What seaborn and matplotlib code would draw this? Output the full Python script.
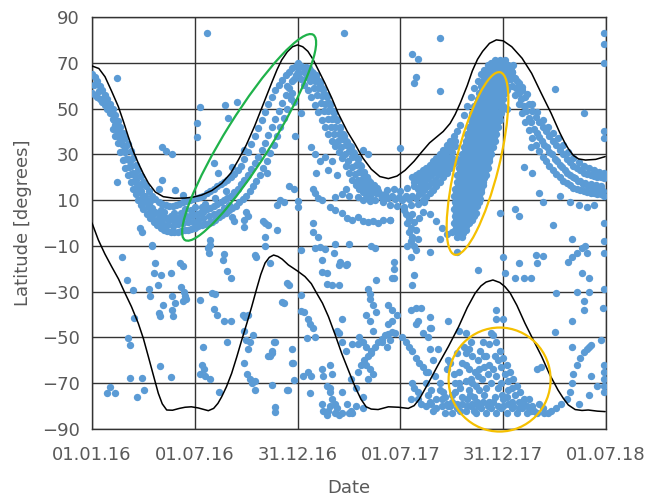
import matplotlib
matplotlib.use('Agg')
import matplotlib.pyplot as plt
import matplotlib.transforms as mtransforms
from matplotlib.patches import Ellipse
import seaborn as sns
import pandas as pd

# x = months since 01.01.16
tick_months = [0, 6, 12, 18, 24, 30]
tick_labels = ['01.01.16', '01.07.16', '31.12.16', '01.07.17', '31.12.17', '01.07.18']
lat_ticks = [-90, -70, -50, -30, -10, 10, 30, 50, 70, 90]

# black curves (month, latitude)
north_curve = [(0, 68.6), (0.4, 67.5), (0.76, 63.9), (1.15, 57.5), (1.54, 50.8), (1.85, 44), (2.12, 37.7),
               (2.4, 31.5), (2.7, 26.2), (3.0, 21.5), (3.29, 17.5), (3.7, 13.5), (4.16, 11.5), (4.8, 10.8),
               (5.43, 10.9), (5.9, 11.3), (6.4, 12.2), (7.0, 14.2), (7.57, 17.3), (8.1, 21.8), (8.54, 27.5),
               (9.0, 34), (9.5, 42.5), (10.0, 52), (10.5, 61.5), (10.8, 67), (11.07, 71.2), (11.4, 74.8),
               (11.7, 77), (12.0, 77.8), (12.3, 77), (12.6, 75), (12.9, 71.5), (13.2, 67), (13.6, 61),
               (14.0, 54.5), (14.37, 47.9), (14.9, 40), (15.35, 34.5), (15.8, 28.5), (16.3, 23.5), (16.8, 20.3),
               (17.3, 19.4), (17.8, 20.5), (18.27, 23), (18.8, 27), (19.24, 31), (19.7, 35), (20.1, 37.5),
               (20.5, 40), (20.9, 43.5), (21.2, 47.5), (21.5, 52.5), (21.9, 60), (22.2, 66.5), (22.5, 71.5),
               (22.8, 75), (23.2, 78.5), (23.6, 80), (24.0, 79.6), (24.5, 77), (25.1, 72), (25.66, 65.4),
               (26.2, 57), (26.8, 47.9), (27.3, 39.5), (27.6, 35), (27.8, 32.5), (28.1, 29.5), (28.4, 28),
               (28.8, 27.5), (29.4, 27.8), (29.95, 29)]
south_curve = [(0, 0), (0.37, -7.4), (0.75, -13.5), (1.15, -19.1), (1.55, -24.5), (1.93, -30.7), (2.3, -36.5),
               (2.7, -43.8), (3.0, -50.5), (3.29, -58.4), (3.6, -67), (3.87, -74.4), (4.1, -79), (4.36, -81.7),
               (4.7, -81.8), (5.1, -81), (5.43, -80.5), (5.8, -80.3), (6.2, -80.8), (6.79, -82), (7.1, -81),
               (7.35, -78.8), (7.57, -75.9), (7.85, -71.5), (8.15, -65.7), (8.45, -58.5), (8.74, -51.1),
               (9.05, -43.5), (9.32, -36.6), (9.6, -29), (9.85, -22.5), (10.1, -17.5), (10.35, -15), (10.6, -14),
               (10.85, -14.6), (11.1, -15.8), (11.46, -18.3), (12.0, -21), (12.43, -23.4), (12.8, -26.5),
               (13.1, -30.5), (13.45, -35), (13.8, -40.9), (14.2, -49), (14.57, -56.9), (15.0, -65),
               (15.35, -71.5), (15.7, -77), (16.0, -80.3), (16.3, -81.3), (16.7, -81.5), (17.3, -80.3),
               (17.9, -80.5), (18.46, -81), (18.8, -79.8), (19.1, -77), (19.4, -73), (19.7, -69), (20.2, -62),
               (20.8, -54), (21.4, -45.3), (21.9, -37), (22.36, -30.7), (22.7, -27.5), (23.0, -25.8),
               (23.4, -24.9), (23.8, -26), (24.1, -27.8), (24.4, -30.5), (24.8, -36), (25.27, -43.8),
               (25.75, -51), (26.25, -58.4), (26.7, -66), (27.2, -73), (27.5, -76.5), (27.8, -79.5),
               (28.2, -81.5), (28.6, -81.9), (28.96, -81.7), (29.5, -82.2), (29.95, -82.4)]

# northern track, 2016 (stripes)
north_2016_a = [(0.0, 65), (0.15, 64), (0.3, 62), (0.45, 60), (0.6, 58), (0.75, 56), (0.9, 54), (1.05, 52),
                (1.2, 50), (1.35, 47), (1.5, 44.5), (1.65, 42), (1.8, 39.5), (1.95, 37), (2.1, 34.5), (2.25, 31.5),
                (2.4, 28.5), (2.55, 25.5), (2.7, 23), (2.85, 20.5), (3.0, 18), (3.15, 16), (3.3, 14), (3.5, 12),
                (3.7, 10.5), (3.9, 9), (4.1, 8.5), (4.3, 8), (4.5, 7.5), (4.7, 7.5), (4.9, 8), (5.1, 8.5), (5.3, 9),
                (5.5, 9.5), (5.7, 10), (5.9, 10.5), (6.1, 11), (6.3, 11.5), (6.5, 12), (6.7, 13), (6.9, 14),
                (7.1, 15), (7.3, 16), (7.5, 17), (7.7, 18), (7.9, 19), (8.1, 20), (8.3, 21.5), (8.5, 23),
                (8.7, 25), (8.9, 28), (9.1, 31), (9.3, 34.5), (9.5, 38), (9.7, 41.5), (9.9, 45), (10.1, 48.5),
                (10.3, 52), (10.5, 55), (10.7, 58), (10.9, 60.5), (11.1, 62.5), (11.3, 64.5), (11.5, 66),
                (11.7, 67.5), (11.9, 68.5), (12.1, 69)]
north_2016_b = [(0.0, 57), (0.15, 56), (0.3, 55), (0.45, 54), (0.6, 53), (0.75, 51.5), (0.9, 50), (1.05, 48),
                (1.2, 45.5), (1.35, 43), (1.5, 40), (1.65, 37), (1.8, 34), (1.95, 31), (2.1, 28), (2.25, 25),
                (2.4, 22), (2.55, 19), (2.7, 16.5), (2.85, 14), (3.0, 12), (3.15, 10), (3.3, 8.5), (3.5, 6.5),
                (3.7, 5), (3.9, 3.5), (4.1, 2.5), (4.3, 2), (4.5, 1.5), (4.7, 1.5), (4.9, 2), (5.1, 2), (5.3, 2.5),
                (5.5, 3), (5.7, 3), (5.9, 3.5), (6.1, 4), (6.3, 4.5), (6.5, 5), (6.7, 6), (6.9, 6.5), (7.1, 7.5),
                (7.3, 8.5), (7.5, 9), (7.7, 10), (7.9, 11), (8.1, 12), (8.3, 13.5), (8.5, 15), (8.7, 17), (8.9, 19),
                (9.1, 21), (9.3, 23.5), (9.5, 26), (9.7, 29), (9.9, 32), (10.1, 35), (10.3, 38.5), (10.5, 42),
                (10.7, 45.5), (10.9, 49), (11.1, 52.5), (11.3, 56), (11.5, 59), (11.7, 62), (11.9, 64.5), (12.0, 66)]
north_2016_c = [(1.2, 41), (1.35, 38), (1.5, 35), (1.65, 31), (1.8, 27.5), (1.95, 24), (2.1, 21), (2.25, 18),
                (2.4, 15), (2.55, 12.5), (2.7, 10), (2.85, 8), (3.0, 6), (3.2, 4), (3.4, 2), (3.6, 0.5), (3.8, -1),
                (4.0, -2), (4.2, -3), (4.4, -3.5), (4.6, -4), (4.8, -4), (5.0, -4), (5.2, -3.5), (5.4, -3),
                (5.6, -3), (5.8, -2.5), (6.0, -2), (6.2, -1.5), (6.4, -1), (6.6, -0.5), (6.8, 0), (7.0, 0.5),
                (7.2, 1.5), (7.4, 2.5), (7.6, 3.5), (7.8, 4.5), (8.0, 5.5), (8.2, 6.5), (8.4, 7.5), (8.6, 9),
                (8.8, 10.5), (9.0, 12), (9.2, 14), (9.4, 16), (9.6, 18.5), (9.8, 21), (10.0, 24), (10.2, 27),
                (10.4, 30.5), (10.6, 34), (10.8, 38), (11.0, 42), (11.2, 46), (11.4, 50), (11.6, 54)]
north_2016_fill = [(3.5, 3), (3.8, 1.5), (4.1, 0), (4.4, -1), (4.7, -1.5), (5.0, -0.5), (5.3, 0), (5.6, 0.5),
                   (5.9, 0.5), (6.2, 1.5), (6.5, 2), (6.8, 3), (7.1, 4), (7.4, 5), (7.7, 6.5), (8.0, 8),
                   (0.5, 58), (1.0, 51), (1.3, 45), (1.6, 39), (1.9, 33), (2.2, 27), (2.5, 21), (2.8, 16),
                   (3.1, 12), (3.4, 9.5), (4.2, 5), (4.8, 4.5), (5.4, 6), (6.0, 7), (6.6, 8.5), (7.2, 11),
                   (7.8, 14), (11.4, 60), (11.8, 63), (12.0, 70), (0.1, 60.5), (0.4, 57.5), (0.7, 54.5),
                   (0.95, 51.5), (1.15, 48.5), (1.4, 41.5), (1.55, 38.5), (1.7, 35), (1.85, 31.5), (2.0, 28),
                   (2.15, 24.5), (2.3, 21.5), (2.45, 18.5), (2.6, 16), (2.75, 13.5), (2.9, 11), (3.05, 9),
                   (3.25, 7), (3.45, 5), (4.0, 5.5), (4.6, 3), (5.2, 4.5), (5.8, 5.5), (6.4, 7)]

# descent after the first peak
north_desc_mid = [(12.2, 68.5), (12.4, 67.5), (12.6, 66), (12.8, 64.5), (13.0, 62), (13.2, 59), (13.4, 55.5),
                  (13.6, 52), (13.8, 49), (14.0, 45.5), (14.2, 42), (14.4, 39), (14.6, 36.5), (14.8, 34),
                  (15.0, 31.5), (15.2, 29), (15.4, 25.5), (15.6, 22.5), (15.8, 19.5), (16.0, 17), (16.2, 15.5),
                  (16.4, 14), (16.6, 13), (16.8, 12.5), (17.0, 12)]
north_desc_right = [(12.5, 68), (12.7, 67), (12.9, 65.5), (13.1, 63.5), (13.3, 61), (13.5, 58), (13.7, 55),
                    (13.9, 51.5), (14.1, 48), (14.3, 45), (14.5, 41.5), (14.7, 38), (14.9, 35.5), (15.1, 33),
                    (15.3, 30.5), (15.5, 28), (15.7, 25), (15.9, 21.5), (16.1, 19), (16.3, 17), (16.5, 15.5),
                    (16.7, 14)]
north_desc_left = [(12.0, 65), (12.2, 63), (12.4, 60.5), (12.6, 58), (12.8, 55), (13.0, 51.5), (13.2, 48.5),
                   (13.4, 45), (13.6, 42), (13.8, 39), (14.0, 36), (14.2, 33.5), (14.4, 31), (14.6, 28.5),
                   (14.8, 25), (15.0, 22), (15.2, 19), (15.4, 16.5), (15.6, 15), (15.8, 13.5), (16.0, 12.5),
                   (16.2, 12)]
north_desc_fill = [(12.35, 66), (12.55, 64), (12.75, 62), (12.95, 59), (13.15, 56), (13.35, 52.5), (13.55, 49),
                   (13.75, 45.5), (13.95, 42), (14.15, 39), (14.35, 36), (14.55, 33), (14.75, 30), (14.95, 27),
                   (15.15, 24.5), (15.35, 21.5), (15.55, 19), (15.75, 17), (15.95, 15), (16.15, 14),
                   (12.65, 67.5), (12.85, 66), (13.05, 64.5), (13.25, 62), (13.45, 59), (13.65, 56),
                   (13.85, 52.5), (14.05, 49), (14.25, 45.5), (14.45, 42), (14.65, 39), (14.85, 36),
                   (15.05, 33.5), (15.25, 31), (15.45, 28.5), (15.65, 25.5), (15.85, 22.5), (16.05, 20),
                   (16.25, 18), (16.45, 16.5), (16.65, 15.5)]

# mid 2017 gathering point near the equator
north_knot = [(16.9, 11), (17.1, 12.5), (17.3, 11), (17.5, 12), (17.7, 10.5), (17.9, 11.5), (18.1, 10),
              (18.3, 12), (18.5, 10.5), (18.7, 12), (18.9, 11), (19.1, 12.5), (17.2, 14.5), (17.6, 15),
              (18.0, 14), (18.4, 15.5), (18.8, 16), (19.2, 16.5), (17.4, 8), (17.8, 7.5), (18.2, 7), (18.6, 8),
              (19.0, 8.5), (18.3, 4), (18.5, 2), (18.7, 4), (18.4, 0), (18.6, -2), (18.8, 0.5), (18.5, -4),
              (18.7, -6), (18.9, -3), (18.6, -8), (18.8, -10), (19.0, -7), (18.9, -12), (19.1, 2), (19.3, 5),
              (17.0, 9), (16.5, 10), (16.0, 11), (15.5, 11.5), (15.0, 12), (14.6, 12.5), (14.2, 11.5),
              (16.2, 9.5), (15.8, 10), (14.6, 4.5), (14.9, 2), (15.2, 1.5), (15.5, 2.5), (15.8, 1), (16.1, 0.5),
              (16.4, 1), (16.7, 0), (17.0, 1.5), (17.4, 1.5), (13.9, 7), (18.2, 5.5), (19.4, 9)]

# rise towards the second peak
north_rise_upper = [(18.7, 20), (18.9, 21), (19.1, 22), (19.3, 23), (19.5, 24), (19.7, 25.5), (19.9, 27),
                    (20.1, 28.5), (20.3, 30), (20.5, 32), (20.7, 34), (20.9, 36), (21.1, 38), (21.3, 40),
                    (21.5, 43), (21.7, 47), (21.9, 51), (22.1, 55), (22.3, 59), (22.5, 62), (22.7, 65),
                    (22.9, 67), (23.1, 69), (23.3, 70), (23.5, 71)]
north_rise_mid = [(19.0, 15), (19.2, 16.5), (19.4, 18), (19.6, 19.5), (19.8, 21), (20.0, 22.5), (20.2, 24),
                  (20.4, 25.5), (20.6, 27), (20.8, 29), (21.0, 31), (21.2, 33.5)]
north_rise_lower = [(19.3, 10), (19.5, 11.5), (19.7, 13), (19.9, 14.5), (20.1, 16), (20.3, 18), (20.5, 20),
                    (20.7, 22), (20.9, 24), (21.1, 26), (21.3, 28)]
north_rise_fill = [(18.8, 18), (19.0, 19), (19.2, 20), (19.4, 21), (19.6, 22.5), (19.8, 24), (20.0, 25.5),
                   (20.2, 27), (20.4, 28.5), (20.6, 30), (20.8, 32), (21.0, 34), (21.2, 36), (19.2, 13),
                   (19.4, 14.5), (19.6, 16), (19.8, 17.5), (20.0, 19), (20.2, 21), (20.4, 22.5), (20.6, 24),
                   (20.8, 26), (21.0, 28.5)]

# dense cloud (yellow ellipse): latitude row -> months
blob_rows = [(-6, [21.3, 21.6]), (-4.5, [21.35, 21.65]), (-3, [21.2, 21.5, 21.8]), (-1.5, [21.25, 21.55, 21.85]),
             (0, [21.1, 21.4, 21.7, 22.0]), (1.5, [21.25, 21.55, 21.85, 22.15]),
             (3, [21.2, 21.5, 21.8, 22.1, 22.3]), (4.5, [21.25, 21.55, 21.85, 22.15, 22.4]),
             (6, [21.1, 21.4, 21.7, 22.0, 22.3]), (7.5, [21.25, 21.55, 21.85, 22.15, 22.45]),
             (9, [21.2, 21.5, 21.8, 22.1, 22.4, 22.6]), (10.5, [21.25, 21.55, 21.85, 22.15, 22.45, 22.65]),
             (12, [21.1, 21.4, 21.7, 22.0, 22.3, 22.6]), (13.5, [21.25, 21.55, 21.85, 22.15, 22.45, 22.7]),
             (15, [21.2, 21.5, 21.8, 22.1, 22.4, 22.7]), (16.5, [21.35, 21.65, 21.95, 22.25, 22.55, 22.8]),
             (18, [21.3, 21.6, 21.9, 22.2, 22.5, 22.8]), (19.5, [21.45, 21.75, 22.05, 22.35, 22.65, 22.9]),
             (21, [21.3, 21.6, 21.9, 22.2, 22.5, 22.8, 23.0]), (22.5, [21.45, 21.75, 22.05, 22.35, 22.65, 22.95]),
             (24, [21.4, 21.7, 22.0, 22.3, 22.6, 22.9, 23.1]), (25.5, [21.55, 21.85, 22.15, 22.45, 22.75, 23.05]),
             (27, [21.5, 21.8, 22.1, 22.4, 22.7, 23.0, 23.2]), (28.5, [21.65, 21.95, 22.25, 22.55, 22.85, 23.15]),
             (30, [21.6, 21.9, 22.2, 22.5, 22.8, 23.1, 23.3]), (31.5, [21.75, 22.05, 22.35, 22.65, 22.95, 23.25]),
             (33, [21.7, 22.0, 22.3, 22.6, 22.9, 23.2, 23.4]), (34.5, [21.85, 22.15, 22.45, 22.75, 23.05, 23.35]),
             (36, [21.8, 22.1, 22.4, 22.7, 23.0, 23.3, 23.5]), (37.5, [21.95, 22.25, 22.55, 22.85, 23.15, 23.45]),
             (39, [21.9, 22.2, 22.5, 22.8, 23.1, 23.4, 23.6]), (40.5, [22.05, 22.35, 22.65, 22.95, 23.25, 23.55]),
             (42, [22.0, 22.3, 22.6, 22.9, 23.2, 23.5, 23.7]), (43.5, [22.15, 22.45, 22.75, 23.05, 23.35, 23.65]),
             (45, [22.1, 22.4, 22.7, 23.0, 23.3, 23.6, 23.8]), (46.5, [22.25, 22.55, 22.85, 23.15, 23.45, 23.75]),
             (48, [22.2, 22.5, 22.8, 23.1, 23.4, 23.7, 23.9]), (49.5, [22.35, 22.65, 22.95, 23.25, 23.55, 23.85]),
             (51, [22.3, 22.6, 22.9, 23.2, 23.5, 23.8, 24.0]), (52.5, [22.45, 22.75, 23.05, 23.35, 23.65, 23.9]),
             (54, [22.5, 22.8, 23.1, 23.4, 23.7, 24.0]), (55.5, [22.65, 22.95, 23.25, 23.55, 23.85]),
             (57, [22.6, 22.9, 23.2, 23.5, 23.8, 24.1]), (58.5, [22.75, 23.05, 23.35, 23.65, 23.95]),
             (60, [22.7, 23.0, 23.3, 23.6, 23.9, 24.2]), (61.5, [22.85, 23.15, 23.45, 23.75, 24.05]),
             (63, [22.9, 23.2, 23.5, 23.8, 24.1, 24.3]), (64.5, [23.05, 23.35, 23.65, 23.95, 24.25]),
             (66, [23.1, 23.4, 23.7, 24.0, 24.3, 24.5]), (67.5, [23.25, 23.55, 23.85, 24.15, 24.45]),
             (69, [23.4, 23.7, 24.0, 24.3, 24.6]), (71, [23.8, 24.1])]

# descent after the second peak
north_2018_a = [(24.3, 68), (24.5, 66), (24.7, 63.5), (24.9, 61), (25.1, 58), (25.3, 55), (25.5, 52), (25.7, 49),
                (25.9, 46.5), (26.1, 44), (26.3, 42), (26.5, 40), (26.7, 38), (26.9, 36), (27.1, 34), (27.3, 32),
                (27.5, 30), (27.7, 28), (27.9, 26.5), (28.1, 25), (28.3, 24), (28.5, 23), (28.7, 22),
                (28.9, 21.5), (29.1, 21), (29.3, 20.5), (29.5, 20), (29.7, 20), (29.9, 19.5)]
north_2018_b = [(24.5, 60), (24.7, 56), (24.9, 52), (25.1, 48), (25.3, 44), (25.5, 40.5), (25.7, 37), (25.9, 34),
                (26.1, 31.5), (26.3, 29), (26.5, 27), (26.7, 25), (26.9, 23), (27.1, 21.5), (27.3, 20),
                (27.5, 18.5), (27.7, 17.5), (27.9, 16.5), (28.1, 15.5), (28.3, 15), (28.5, 14.5), (28.7, 14),
                (28.9, 13.5), (29.1, 13), (29.3, 13), (29.5, 12.5), (29.7, 12.5), (29.9, 12)]
north_2018_c = [(24.6, 64), (24.9, 57), (25.2, 51), (25.5, 46), (25.8, 41), (26.1, 37.5), (26.4, 34), (26.7, 31),
                (27.0, 28), (27.3, 25.5), (27.6, 23), (27.9, 21), (28.2, 19.5), (28.5, 18.5), (28.8, 17.5),
                (29.1, 17), (29.4, 16.5), (29.7, 16)]
north_2018_d = [(24.45, 63), (24.75, 59), (25.05, 54), (25.35, 49), (25.65, 44), (25.95, 39.5), (26.25, 36),
                (26.55, 33), (26.85, 30), (27.15, 27), (27.45, 24.5), (27.75, 22), (28.05, 20), (28.35, 18.5),
                (28.65, 17), (28.95, 16), (29.25, 15), (29.55, 14.5), (29.85, 14), (24.8, 62), (25.1, 59.5),
                (25.4, 56.5), (25.7, 52), (26.0, 48.5), (26.3, 45), (26.6, 42), (26.9, 39.5), (27.2, 37),
                (27.5, 34), (27.8, 31), (28.1, 28.5), (28.4, 26.5), (28.7, 25), (29.0, 24), (29.3, 23),
                (29.6, 22.5), (29.9, 22)]

# isolated points in the northern half
north_scatter = [(6.7, 83), (14.7, 83), (20.3, 81), (18.7, 74), (19.0, 71.5), (18.9, 64), (18.8, 61),
                 (20.3, 57.7), (27.0, 58.5), (28.7, 48), (29.9, 83), (29.9, 78), (29.9, 70), (29.9, 40),
                 (29.9, 37), (24.2, 58), (24.2, 50), (25.6, 33), (25.2, 24.5), (25.7, 22), (26.1, 13), (26.9, -1),
                 (24.7, 6), (24.9, 3), (23.8, 4.5), (27.9, 9), (28.4, 8), (28.9, 7), (29.3, 8), (28.0, -7),
                 (29.9, 0), (29.9, -8), (29.9, -13), (1.45, 63.4), (1.45, 18), (4.07, 33), (4.3, 31.5),
                 (4.67, 30), (4.07, 18.8), (3.9, 15), (4.85, 14.4), (5.3, 12.2), (6.1, 43.7), (6.1, 37.6),
                 (6.3, 50.8), (7.76, 51.6), (8.45, 53), (7.95, 46), (7.35, 22), (7.1, 26), (8.15, 24.6),
                 (8.9, 32), (10.2, 22), (9.0, 5), (9.1, 3), (10.0, 1), (10.3, -1), (10.8, -3), (11.0, 10),
                 (11.2, 9), (11.5, 16), (11.8, 15), (12.0, 7), (12.9, 0), (12.9, -4), (12.8, 33), (13.1, 22),
                 (11.8, 53), (11.85, 38), (11.7, 57), (12.2, 48), (13.0, 30), (13.3, 27), (13.6, 29), (14.0, 27),
                 (13.8, 23), (14.3, 21), (14.8, 15), (12.9, 15), (13.0, 13), (13.2, 11), (13.4, 10), (14.2, 5.6),
                 (10.1, 0), (10.8, 8), (12.0, 9.6), (10.1, -6), (13.2, -6), (17.4, 1.5), (2.8, -2), (2.9, -4),
                 (3.5, -10), (6.9, -7.4), (6.9, -9.6), (8.2, 2.6), (8.3, 1), (8.9, 1.3), (8.9, -1.7),
                 (15.8, 32), (16.1, 30), (18.0, 32.8), (19.7, 4), (20.1, 1), (20.4, -2), (20.3, -7), (20.7, -5),
                 (21.0, -4), (26.3, 9), (27.3, 12)]

# southern half
south_2016 = [(1.73, -14.7), (2.02, -24.9), (2.37, -29.3), (2.45, -41.5), (2.12, -50.2), (2.2, -53.5),
              (2.2, -67.7), (0.86, -74.4), (1.06, -71.5), (1.35, -74.4), (2.64, -76), (2.9, -67.7), (3.05, -72.9),
              (3.3, -29), (3.4, -32), (3.48, -9.6), (3.68, -17.5), (3.6, -21.9), (3.87, -27), (3.93, -39.3),
              (3.97, -40.8), (4.16, -35.8), (4.05, -22.7), (3.97, -62.4), (4.59, -21.9), (4.61, -67.3),
              (4.65, -32), (4.65, -38), (4.7, -40.7), (4.84, -35), (5.14, -17.6), (5.33, -19), (5.2, -28),
              (5.35, -30), (5.45, -32), (5.3, -34), (5.5, -33), (6.3, -33.6), (6.5, -54), (6.4, -62),
              (6.55, -64), (6.3, -66), (6.6, -67), (6.9, -68), (6.8, -13), (6.75, -11), (7.0, -30.5),
              (7.2, -31), (7.1, -37.5), (7.3, -40), (7.4, -74), (7.68, -13.5), (7.65, -16), (7.9, -21),
              (8.1, -24), (7.7, -43), (8.1, -43), (7.9, -51.8), (8.8, -40), (8.95, -41), (9.1, -40), (8.9, -47),
              (9.0, -51), (9.1, -55), (9.25, -52), (9.4, -49), (8.9, -61), (9.05, -66), (9.2, -68), (9.35, -70),
              (9.5, -69), (9.5, -73), (9.6, -14.7), (10.1, -10), (10.4, -17.5), (10.5, -57), (10.4, -58),
              (10.6, -51.8), (10.5, -70.8), (10.7, -80.4), (10.7, -82.6), (11.1, -34.4), (11.5, -27),
              (11.4, -26), (11.46, -73), (11.75, -61), (11.8, -68.7), (12.2, -11.8), (12.2, -31.5),
              (12.2, -38.6), (12.3, -67), (12.7, -74.4), (12.53, -50.3)]
south_2017 = [(9.5, -14), (13.0, -11), (13.3, -10.5), (13.6, -11.5), (14.2, -9), (15.0, -9), (16.3, -10),
              (16.5, -11), (17.6, -17), (18.4, -10), (18.6, -15), (13.4, -16), (14.4, -18.5), (14.8, -18.5),
              (13.4, -21.5), (13.7, -22), (13.7, -26.5), (14.0, -27), (14.4, -27), (16.6, -25), (17.5, -24),
              (18.7, -27), (18.8, -22.5), (16.1, -29), (16.2, -31), (11.2, -35), (17.3, -36), (17.5, -38),
              (18.9, -37), (19.2, -37), (12.4, -39), (12.6, -42), (12.75, -44), (12.9, -46), (16.0, -40),
              (16.2, -43), (16.4, -47), (17.3, -44), (17.5, -43), (14.6, -42), (18.9, -44), (19.3, -48),
              (19.7, -46), (13.0, -50), (14.4, -48), (14.6, -52), (14.8, -56), (15.2, -53), (15.5, -53),
              (10.3, -58), (10.5, -56), (10.7, -52), (11.7, -55), (11.7, -61), (12.6, -65), (12.8, -67),
              (13.4, -64), (13.5, -67), (13.7, -71), (13.9, -74), (14.0, -77), (14.2, -79), (14.6, -74),
              (14.9, -79), (15.1, -82), (15.2, -83), (15.4, -80), (13.4, -79), (13.5, -82), (13.7, -84),
              (13.8, -82), (14.2, -83), (14.4, -84), (14.6, -83), (11.4, -73),
              (15.5, -65), (15.7, -62), (15.9, -60), (16.1, -58), (16.3, -56), (16.5, -54), (16.7, -52),
              (16.9, -50.5), (17.1, -49), (17.3, -48.5), (17.5, -47.5), (17.7, -48), (16.0, -62), (16.2, -64),
              (16.4, -66), (16.1, -68), (18.1, -50), (18.3, -52), (18.5, -54), (18.7, -56), (18.9, -59),
              (19.1, -61), (19.3, -63), (19.5, -65), (18.7, -70), (18.8, -72), (19.0, -74), (19.0, -77),
              (19.2, -79), (19.5, -80), (18.6, -77), (14.1, -13), (14.5, -17), (14.9, -18), (16.2, -33),
              (16.4, -36), (16.6, -39), (17.6, -20), (17.6, -24), (17.8, -40), (18.6, -38), (19.0, -43),
              (14.3, -47), (15.6, -50), (15.8, -52), (16.0, -54), (16.3, -57), (16.9, -52), (17.2, -54),
              (17.4, -51), (13.9, -62), (14.0, -66), (13.9, -72), (15.1, -68), (15.4, -72), (15.8, -76),
              (13.9, -80), (14.3, -81), (15.0, -83), (15.8, -81)]
south_2018 = [(19.6, -50), (19.7, -55), (19.9, -60), (19.6, -65), (20.0, -67), (20.3, -70), (19.5, -70),
              (19.8, -73), (20.5, -74), (20.1, -77), (19.7, -78), (20.4, -80), (20.9, -80), (21.3, -79),
              (19.9, -82), (20.6, -83), (21.0, -83), (21.5, -82), (20.8, -43), (21.4, -47), (21.8, -48),
              (20.2, -55), (20.8, -60), (21.1, -66), (21.4, -70), (20.7, -64), (19.7, -41), (19.8, -46),
              (19.7, -12.5), (21.3, -12.5), (22.5, -20.5), (24.0, -15), (24.1, -22), (24.9, -17.6), (24.7, -24),
              (25.2, -24), (25.6, -24), (25.9, -14), (26.3, -14.5), (26.0, -17.5), (27.8, -17), (28.0, -15),
              (28.3, -13), (28.6, -11), (28.8, -10), (28.9, -13), (28.6, -22), (29.0, -24), (27.1, -30.7),
              (28.3, -30), (29.0, -30), (29.9, -29), (28.7, -34), (28.7, -38), (29.8, -37), (23.6, -38),
              (23.6, -42), (24.0, -42), (28.0, -43), (27.0, -47.5), (29.7, -51), (28.0, -54), (29.0, -54),
              (26.8, -82), (27.1, -81), (27.4, -79), (27.7, -77), (27.9, -74), (28.0, -70), (28.1, -66),
              (28.3, -62), (28.5, -59), (28.7, -56.5), (28.9, -55), (29.1, -53.5), (29.1, -67), (29.0, -75),
              (28.4, -79), (29.9, -65), (29.9, -68), (29.9, -71), (29.9, -74), (29.9, -62), (29.5, -71),
              (20.9, -61), (21.3, -57), (21.7, -54), (22.1, -52), (26.0, -64), (26.2, -63)]
south_2018_m = [(22.3, -82), (22.45, -78), (22.6, -73), (22.75, -68), (22.9, -63), (23.0, -58), (23.15, -53),
                (23.3, -48), (21.9, -80), (22.05, -75), (22.2, -70), (22.35, -65), (22.5, -60), (22.65, -56),
                (22.8, -52), (23.4, -49), (23.6, -52), (23.8, -56), (24.0, -59), (24.2, -62), (24.4, -65),
                (24.6, -68), (24.8, -71), (25.0, -74), (25.2, -77), (25.4, -80), (25.6, -82), (23.7, -60),
                (23.9, -63), (24.1, -66), (24.3, -69), (24.5, -72), (24.7, -75), (24.9, -78), (23.9, -70),
                (23.95, -75), (24.0, -80), (20.8, -80), (21.0, -75), (21.2, -70), (21.4, -65), (21.6, -61),
                (21.8, -57), (22.0, -55), (21.8, -82), (22.1, -80), (22.4, -83), (22.7, -81), (23.0, -83),
                (23.3, -81), (23.6, -83), (23.9, -81), (24.2, -83), (24.5, -81), (24.8, -83), (25.1, -81),
                (25.4, -83), (25.7, -80), (26.0, -83), (26.3, -81), (26.6, -83), (21.6, -76), (22.0, -73),
                (21.8, -69), (22.3, -76), (23.5, -76), (23.7, -72), (24.2, -76), (24.5, -78), (23.3, -70),
                (22.6, -64), (23.2, -78), (22.9, -75)]
south_2018_floor = [(19.8, -79), (20.1, -81), (20.4, -77), (20.7, -79), (21.0, -78), (21.3, -81), (21.6, -79),
                    (21.9, -77), (22.2, -79), (22.5, -80), (22.8, -78), (23.1, -80), (23.4, -78), (23.7, -80),
                    (24.0, -77), (24.3, -79), (24.6, -80), (24.9, -81), (25.2, -79), (25.5, -77), (25.8, -82),
                    (26.1, -79), (26.4, -83), (21.2, -74), (21.5, -72), (22.1, -68), (22.4, -71), (23.1, -66),
                    (23.4, -64), (23.6, -67), (24.3, -73), (22.9, -58), (23.5, -58), (23.2, -62), (22.5, -67),
                    (21.8, -62), (22.2, -58), (22.0, -64), (23.0, -72), (20.3, -73), (20.6, -76), (19.6, -75)]

point_groups = [north_2016_a, north_2016_b, north_2016_c, north_2016_fill, north_desc_mid, north_desc_right,
                north_desc_left, north_desc_fill, north_knot, north_rise_upper, north_rise_mid, north_rise_lower,
                north_rise_fill, north_2018_a, north_2018_b, north_2018_c, north_2018_d, north_scatter,
                south_2016, south_2017, south_2018, south_2018_m, south_2018_floor]
pts = [p for grp in point_groups for p in grp]
pts += [(m, lat) for lat, months in blob_rows for m in months]
points = pd.DataFrame(pts, columns=['month', 'lat'])
north_df = pd.DataFrame(north_curve, columns=['month', 'lat'])
south_df = pd.DataFrame(south_curve, columns=['month', 'lat'])

sns.set_theme(style='white')
plt.rcParams['font.family'] = ['DejaVu Sans']

fig = plt.figure(figsize=(6.62, 4.97), dpi=100)
ax = fig.add_axes([92 / 662, 68 / 497, 514 / 662, 412 / 497])

sns.scatterplot(data=points, x='month', y='lat', ax=ax, s=28, color='#5B9BD5', linewidth=0, zorder=3)
sns.lineplot(data=north_df, x='month', y='lat', ax=ax, sort=False, estimator=None, color='black', lw=1.1, zorder=4)
sns.lineplot(data=south_df, x='month', y='lat', ax=ax, sort=False, estimator=None, color='black', lw=1.1, zorder=4)

ax.set_xlim(0, 30)
ax.set_ylim(-90, 90)
ax.set_xticks(tick_months, tick_labels)
ax.set_yticks(lat_ticks)
ax.tick_params(length=0, labelsize=13, labelcolor='#595959')
ax.tick_params(axis='x', pad=12)
ax.tick_params(axis='y', pad=9)
ax.grid(True, color='#333333', lw=1.0)
ax.set_axisbelow(True)
for sp in ax.spines.values():
    sp.set_color('#333333')
    sp.set_linewidth(1.0)
ax.set_xlabel('Date', fontsize=13, color='#595959', labelpad=11)
ax.set_ylabel('Latitude [degrees]', fontsize=13, color='#595959', labelpad=7)

# highlighted regions
def add_ellipse(cx, cy, w_px, h_px, angle, color):
    trans = fig.dpi_scale_trans + mtransforms.ScaledTranslation(cx, cy, ax.transData)
    e = Ellipse((0, 0), w_px / 100, h_px / 100, angle=angle, transform=trans,
                fill=False, edgecolor=color, lw=1.6, zorder=5, clip_on=False)
    ax.add_patch(e)

add_ellipse(9.17, 37.4, 242, 46, 58, '#1FB24A')
add_ellipse(22.5, 26, 188, 43, 76, '#F5C000')
add_ellipse(23.79, -68.4, 102, 104, 0, '#F5C000')

fig.savefig('out.png', dpi=100)
